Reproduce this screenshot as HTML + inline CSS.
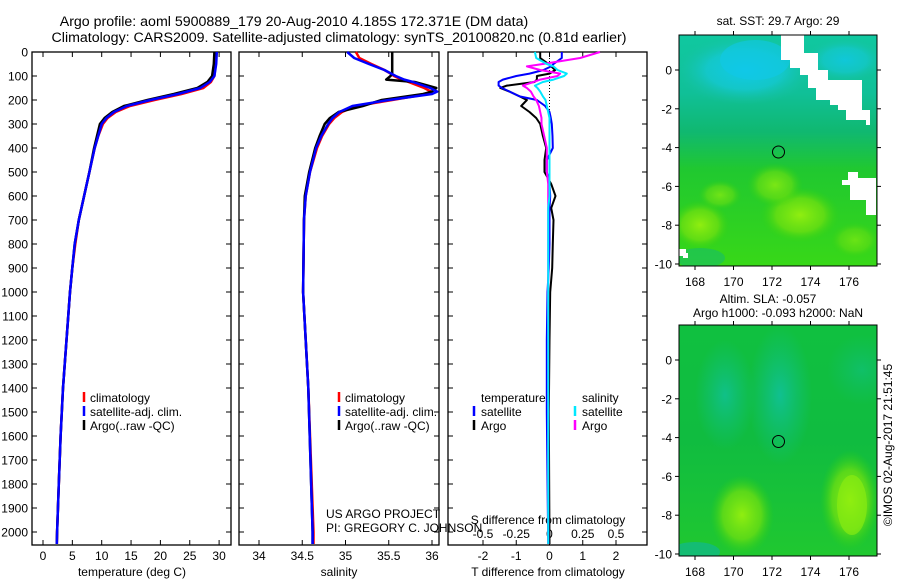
<!DOCTYPE html>
<html><head><meta charset="utf-8">
<style>
html,body{margin:0;padding:0;background:#fff;}
svg{display:block;font-family:"Liberation Sans",sans-serif;}
text{fill:#000;}
</style></head>
<body>
<svg id="chart" width="900" height="580" viewBox="0 0 900 580" xmlns="http://www.w3.org/2000/svg">
<defs>
<radialGradient id="cy1" cx="0.5" cy="0.5" r="0.5"><stop offset="0" stop-color="#10c8e8"/><stop offset="0.55" stop-color="#14c8d0" stop-opacity="0.85"/><stop offset="1" stop-color="#18c0a0" stop-opacity="0"/></radialGradient>
<radialGradient id="lg1" cx="0.5" cy="0.5" r="0.5"><stop offset="0" stop-color="#90ee10"/><stop offset="0.6" stop-color="#70e010" stop-opacity="0.75"/><stop offset="1" stop-color="#30d010" stop-opacity="0"/></radialGradient>
<radialGradient id="tl1" cx="0.5" cy="0.5" r="0.5"><stop offset="0" stop-color="#10c090"/><stop offset="1" stop-color="#10c080" stop-opacity="0"/></radialGradient>
<linearGradient id="topbg" x1="0" y1="0" x2="0" y2="1"><stop offset="0" stop-color="#10c8a0"/><stop offset="0.25" stop-color="#10c098"/><stop offset="0.42" stop-color="#10b870"/><stop offset="0.58" stop-color="#20c830"/><stop offset="1" stop-color="#38d818"/></linearGradient>
<linearGradient id="botbg" x1="0" y1="0" x2="0" y2="1"><stop offset="0" stop-color="#10c040"/><stop offset="0.5" stop-color="#10bc40"/><stop offset="1" stop-color="#20c830"/></linearGradient>
<clipPath id="cTop"><rect x="679" y="35" width="198" height="231"/></clipPath>
<clipPath id="cBot"><rect x="679" y="325" width="198" height="231"/></clipPath>
</defs>

<text x="294" y="26" text-anchor="middle" font-size="14.2">Argo profile: aoml 5900889_179 20-Aug-2010 4.185S 172.371E (DM data)</text>
<text x="339" y="42" text-anchor="middle" font-size="14.2">Climatology: CARS2009. Satellite-adjusted climatology: synTS_20100820.nc (0.81d earlier)</text>

<g id="p1"></g>
<g id="p2"></g>
<g id="p3"></g>

<!-- top map -->
<g>
<g clip-path="url(#cTop)">
<rect x="679" y="35" width="198" height="231" fill="url(#topbg)"/>
<ellipse cx="745" cy="70" rx="70" ry="35" fill="url(#cy1)"/>
<ellipse cx="755" cy="60" rx="35" ry="20" fill="#10c8e8" opacity="0.6"/>
<ellipse cx="845" cy="60" rx="40" ry="22" fill="url(#cy1)" opacity="0.8"/>
<ellipse cx="700" cy="225" rx="30" ry="25" fill="url(#lg1)"/>
<ellipse cx="800" cy="215" rx="40" ry="28" fill="url(#lg1)"/>
<ellipse cx="775" cy="185" rx="28" ry="22" fill="url(#lg1)" opacity="0.8"/>
<ellipse cx="720" cy="195" rx="22" ry="15" fill="url(#lg1)" opacity="0.7"/>
<ellipse cx="855" cy="240" rx="25" ry="18" fill="url(#lg1)" opacity="0.6"/>
<ellipse cx="700" cy="258" rx="25" ry="10" fill="#10b878" opacity="0.5"/>
<polygon points="781,35 804,35 804,53 818,53 818,70 828,70 828,80 862,80 862,110 870,110 870,125 866,125 866,120 846,120 846,110 838,110 838,105 830,105 830,100 816,100 816,88 808,88 808,75 800,75 800,68 790,68 790,60 781,60" fill="#fff"/>
<polygon points="848,172 858,172 858,178 876,178 876,215 866,215 866,200 850,200 850,185 842,185 842,180 848,180" fill="#fff"/>
<rect x="679" y="249" width="7" height="7" fill="#fff"/><rect x="683" y="253" width="5" height="5" fill="#fff"/>
</g>
<rect x="679" y="35" width="198" height="231" fill="none" stroke="#000" stroke-width="1"/>
<circle cx="778.5" cy="152" r="6" fill="none" stroke="#000"/>
<text x="778" y="25" text-anchor="middle" font-size="12">sat. SST: 29.7 Argo: 29</text>
</g>

<!-- bottom map -->
<g>
<g clip-path="url(#cBot)">
<rect x="679" y="325" width="198" height="231" fill="url(#botbg)"/>
<ellipse cx="725" cy="395" rx="30" ry="55" fill="url(#tl1)" opacity="0.9"/>
<ellipse cx="780" cy="395" rx="32" ry="70" fill="url(#tl1)"/>
<ellipse cx="862" cy="370" rx="35" ry="35" fill="url(#tl1)" opacity="0.5"/>
<ellipse cx="742" cy="515" rx="32" ry="40" fill="url(#lg1)"/>
<ellipse cx="850" cy="500" rx="30" ry="50" fill="url(#lg1)"/>
<ellipse cx="852" cy="505" rx="15" ry="30" fill="#90ee10" opacity="0.6"/>
<ellipse cx="695" cy="552" rx="25" ry="10" fill="#10b890" opacity="0.7"/>
</g>
<rect x="679" y="325" width="198" height="231" fill="none" stroke="#000" stroke-width="1"/>
<circle cx="778.5" cy="441.5" r="6" fill="none" stroke="#000"/>
<text x="768" y="303" text-anchor="middle" font-size="12">Altim. SLA: -0.057</text>
<text x="778" y="317" text-anchor="middle" font-size="12">Argo h1000: -0.093 h2000: NaN</text>
</g>
<text transform="translate(892,445) rotate(-90)" text-anchor="middle" font-size="12">©IMOS 02-Aug-2017 21:51:45</text>
</svg>

<script>
// ---- data ----
const depthT = [0,50,100,125,150,175,200,225,250,275,300,350,400,500,600,700,800,900,1000,1200,1400,1600,1800,2000,2050];
const tempArgo = [29.2,29.1,28.8,28.0,26.3,22.3,17.8,13.8,11.8,10.5,9.7,9.2,8.7,7.9,7.0,6.1,5.4,5.0,4.6,4.0,3.4,3.0,2.7,2.4,2.35];
const tempClim = [29.5,29.4,29.2,28.6,27.3,23.6,19.0,14.8,12.4,11.0,10.2,9.4,8.8,7.9,7.0,6.1,5.5,5.0,4.6,4.0,3.4,3.0,2.7,2.4,2.35];
const tempSat  = [29.6,29.5,29.2,28.4,26.8,23.0,18.3,14.3,12.1,10.8,10.0,9.4,8.8,7.9,7.0,6.1,5.4,5.0,4.6,4.0,3.4,3.0,2.7,2.4,2.35];
const depthS = [0,25,50,75,90,100,115,125,150,165,175,200,225,250,275,300,350,400,500,600,700,1000,1400,2000,2050];
const salArgo = [35.54,35.54,35.54,35.54,35.54,35.52,35.47,35.80,36.05,36.0,35.9,35.42,35.2,34.92,34.82,34.76,34.70,34.65,34.58,34.53,34.52,34.51,34.57,34.62,34.62];
const salClim = [35.12,35.16,35.30,35.45,35.52,35.56,35.65,35.73,35.91,35.99,35.95,35.54,35.12,34.96,34.87,34.81,34.73,34.67,34.59,34.54,34.52,34.51,34.57,34.63,34.63];
const salSat  = [35.02,35.10,35.27,35.45,35.53,35.58,35.68,35.78,35.98,36.06,36.0,35.5,35.08,34.93,34.85,34.80,34.72,34.66,34.59,34.54,34.52,34.51,34.57,34.62,34.62];
const depthD = [0,25,50,60,75,90,100,115,125,140,150,165,185,200,225,250,275,300,350,400,450,500,550,600,650,700,800,900,1000,1200,1500,2050];
const dTArgo = [-0.28,-0.28,-0.03,0.05,0.17,0.0,-0.38,-0.38,-0.45,-1.28,-1.48,-1.2,-0.9,-0.68,-0.85,-0.6,-0.4,-0.28,-0.2,-0.1,-0.15,-0.15,0.05,0.18,0.05,0.12,0.1,0.08,0.02,0.0,-0.02,0.0];
const dTSat  = [0.37,0.37,0.12,0.05,-0.18,-0.6,-1.0,-1.4,-1.53,-1.53,-1.43,-1.2,-0.9,-0.38,-0.13,0.0,0.04,0.07,0.09,0.1,-0.08,-0.08,0.0,0.02,0.0,0.0,0.0,-0.02,-0.06,-0.08,-0.08,-0.04];
const dSArgo = [0.38,0.23,-0.05,-0.17,-0.07,0.08,0.06,-0.07,-0.12,-0.2,-0.17,-0.14,-0.12,-0.1,-0.08,-0.07,-0.06,-0.06,-0.04,-0.02,-0.02,-0.02,-0.01,-0.01,-0.01,-0.01,-0.01,-0.01,-0.01,-0.01,-0.01,-0.01];
const dSSat  = [-0.11,-0.10,-0.02,0.03,0.06,0.13,0.11,0.03,-0.05,-0.11,-0.09,-0.07,-0.05,-0.03,-0.02,-0.01,0.0,0.0,0.0,0.0,0.0,0.0,0.0,0.0,-0.01,-0.01,-0.01,-0.01,-0.01,-0.01,-0.01,-0.01];
const depthTicks = [0,100,200,300,400,500,600,700,800,900,1000,1100,1200,1300,1400,1500,1600,1700,1800,1900,2000];
const tempTicks = [0,5,10,15,20,25,30];
const salTicks = [34,34.5,35,35.5,36];
const salTickLabels = ["34","34.5","35","35.5","36"];
const dTTicks = [-2,-1,0,1,2];
const dSTicks = [-0.5,-0.25,0,0.25,0.5];
const dSTickLabels = ["-0.5","-0.25","0","0.25","0.5"];
const lonTicks = [168,170,172,174,176];
const latTicks = [0,-2,-4,-6,-8,-10];

const NS = "http://www.w3.org/2000/svg";
const svg = document.getElementById('chart');
function mk(tag, attrs, parent){ const e=document.createElementNS(NS,tag); for(const k in attrs) e.setAttribute(k,attrs[k]); (parent||svg).appendChild(e); return e; }

const Y0=52, Y1=545;
const yD = d => Y0 + d*0.24;
const xT = t => 43 + t*5.87;
const xS = s => 259 + (s-34)*86.5;
const xDT = d => 549.5 + d*33.25;
const xDS = s => 549.5 + s*133;

function drawLine(g, xs, ys, xf, color, w, name){
  const pts = xs.map((v,i)=>xf(v).toFixed(1)+','+yD(ys[i]).toFixed(1)).join(' ');
  const p = mk('polyline',{points:pts,fill:'none',stroke:color,'stroke-width':w,'stroke-linejoin':'round'},g);
  
  
}
function frame(g,x0,x1,name){
  const r = mk('rect',{x:x0,y:Y0,width:x1-x0,height:Y1-Y0,fill:'none',stroke:'#000','stroke-width':1.3},g);
  
  
  depthTicks.forEach(d=>{
    mk('line',{x1:x0,x2:x0+5,y1:yD(d),y2:yD(d),stroke:'#000'},g);
    mk('line',{x1:x1-5,x2:x1,y1:yD(d),y2:yD(d),stroke:'#000'},g);
  });
}
function xticks(g,ticks,labels,xf,ty,name){
  ticks.forEach((t,i)=>{
    mk('line',{x1:xf(t),x2:xf(t),y1:Y1-5,y2:Y1,stroke:'#000'},g);
    mk('line',{x1:xf(t),x2:xf(t),y1:Y0,y2:Y0+5,stroke:'#000'},g);
    const tx = mk('text',{x:xf(t),y:ty,'text-anchor':'middle','font-size':12},g);
    tx.textContent = labels[i];
    
    
  });
}
function text(g,x,y,s,name,anchor,size){
  const t=mk('text',{x:x,y:y,'font-size':size||12,'text-anchor':anchor||'start'},g);
  t.textContent=s;
  
  
  return t;
}
function mark(g,x,y,c){ mk('line',{x1:x,x2:x,y1:y-10,y2:y,stroke:c,'stroke-width':2.5},g); }

// panel 1
const p1=document.getElementById('p1');
frame(p1,32,231,'temperature-axes');
depthTicks.forEach(d=>{
  text(p1,28,yD(d)+4.5,String(d),'depth-tick-label','end',12);
});
xticks(p1,tempTicks,tempTicks.map(String),xT,560,'temperature-tick-label');
text(p1,132,576,'temperature (deg C)','temperature-axis-title','middle');
drawLine(p1,tempClim,depthT,xT,'#ff0000',2.5,'temperature-climatology-line');
drawLine(p1,tempArgo,depthT,xT,'#000',2.5,'temperature-argo-line');
drawLine(p1,tempSat,depthT,xT,'#0000ff',2.5,'temperature-satellite-line');
mark(p1,84,402,'#f00'); text(p1,90,402,'climatology','legend-climatology');
mark(p1,84,416,'#00f'); text(p1,90,416,'satellite-adj. clim.','legend-satellite');
mark(p1,84,430,'#000'); text(p1,90,430,'Argo(..raw -QC)','legend-argo');

// panel 2
const p2=document.getElementById('p2');
frame(p2,239,439,'salinity-axes');
xticks(p2,salTicks,salTickLabels,xS,560,'salinity-tick-label');
text(p2,339,576,'salinity','salinity-axis-title','middle');
drawLine(p2,salClim,depthS,xS,'#ff0000',2.5,'salinity-climatology-line');
drawLine(p2,salArgo,depthS,xS,'#000',2.5,'salinity-argo-line');
drawLine(p2,salSat,depthS,xS,'#0000ff',2.5,'salinity-satellite-line');
mark(p2,339,402,'#f00'); text(p2,345,402,'climatology','legend-climatology');
mark(p2,339,416,'#00f'); text(p2,345,416,'satellite-adj. clim.','legend-satellite');
mark(p2,339,430,'#000'); text(p2,345,430,'Argo(..raw -QC)','legend-argo');
text(p2,326,518,'US ARGO PROJECT','credit-project');
text(p2,326,532,'PI: GREGORY C. JOHNSON','credit-pi');

// panel 3
const p3=document.getElementById('p3');
frame(p3,448,647,'difference-axes');
mk('line',{x1:549.5,x2:549.5,y1:Y0,y2:130,stroke:'#000','stroke-dasharray':'1,2'},p3);
xticks(p3,dTTicks,dTTicks.map(String),xDT,560,'t-difference-tick-label');
dSTicks.forEach((s,i)=>text(p3,xDS(s),538,dSTickLabels[i],'s-difference-tick-label','middle'));
text(p3,548,524,'S difference from climatology','s-difference-axis-title','middle');
text(p3,548,576,'T difference from climatology','t-difference-axis-title','middle');
drawLine(p3,dTArgo,depthD,xDT,'#000',2,'t-diff-argo-line');
drawLine(p3,dTSat,depthD,xDT,'#0000ff',2,'t-diff-satellite-line');
drawLine(p3,dSArgo,depthD,xDS,'#ff00ff',2,'s-diff-argo-line');
drawLine(p3,dSSat,depthD,xDS,'#00e8ff',2,'s-diff-satellite-line');
text(p3,481,402,'temperature','legend-temperature-heading');
mark(p3,474,416,'#00f'); text(p3,481,416,'satellite','legend-t-satellite');
mark(p3,474,430,'#000'); text(p3,481,430,'Argo','legend-t-argo');
text(p3,582,402,'salinity','legend-salinity-heading');
mark(p3,575,416,'#00e8ff'); text(p3,582,416,'satellite','legend-s-satellite');
mark(p3,575,430,'#f0f'); text(p3,582,430,'Argo','legend-s-argo');

// map axes
const lonX = l => 695 + (l-168)*19.25;
[[35,266,70],[325,556,360]].forEach(([t,b,lat0],mi)=>{
  const g=mk('g',{});
  
  
  lonTicks.forEach(l=>{
    mk('line',{x1:lonX(l),x2:lonX(l),y1:b,y2:b+4,stroke:'#000'},g);
    mk('line',{x1:lonX(l),x2:lonX(l),y1:t-4,y2:t,stroke:'#000'},g);
    text(g,lonX(l),b+20,String(l),'lon-tick-label','middle');
  });
  latTicks.forEach(la=>{
    const y = lat0 - la*19.4;
    mk('line',{x1:675,x2:679,y1:y,y2:y,stroke:'#000'},g);
    mk('line',{x1:877,x2:881,y1:y,y2:y,stroke:'#000'},g);
    text(g,672,y+4.5,String(la),'lat-tick-label','end');
  });
});
</script>
</body></html>
